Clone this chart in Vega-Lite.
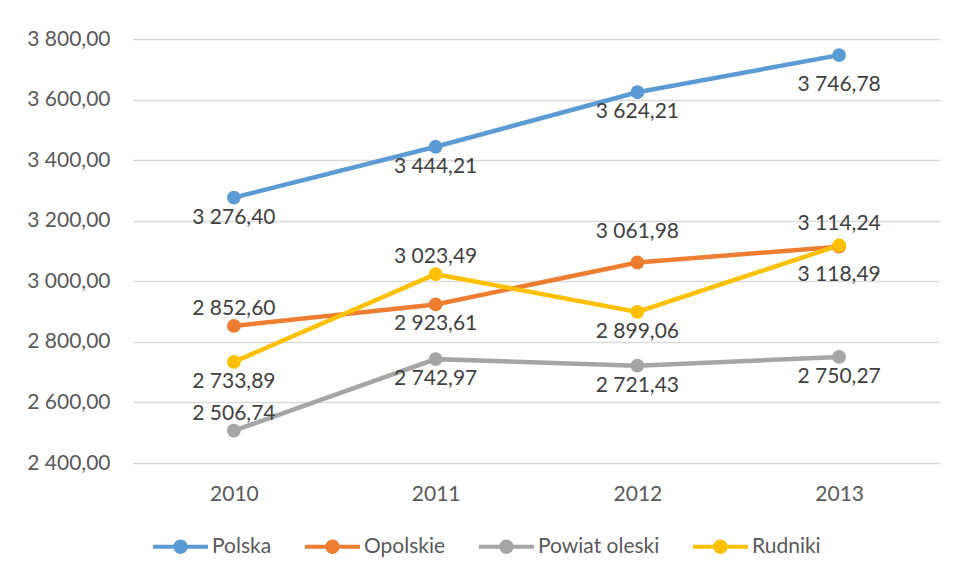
{
  "$schema": "https://vega.github.io/schema/vega-lite/v6.json",
  "autosize": "none",
  "width": 807,
  "height": 424,
  "padding": {"left": 133, "top": 39, "right": 17, "bottom": 113},
  "background": "white",
  "config": {
    "locale": {"number": {"decimal": ",", "thousands": " ", "grouping": [3], "currency": ["", " zł"]}},
    "view": {"stroke": null},
    "font": "Lato"
  },
  "data": {
    "values": [
      {"series": "Polska", "year": "2010", "value": 3276.40},
      {"series": "Polska", "year": "2011", "value": 3444.21},
      {"series": "Polska", "year": "2012", "value": 3624.21},
      {"series": "Polska", "year": "2013", "value": 3746.78},
      {"series": "Opolskie", "year": "2010", "value": 2852.60},
      {"series": "Opolskie", "year": "2011", "value": 2923.61},
      {"series": "Opolskie", "year": "2012", "value": 3061.98},
      {"series": "Opolskie", "year": "2013", "value": 3114.24},
      {"series": "Powiat oleski", "year": "2010", "value": 2506.74},
      {"series": "Powiat oleski", "year": "2011", "value": 2742.97},
      {"series": "Powiat oleski", "year": "2012", "value": 2721.43},
      {"series": "Powiat oleski", "year": "2013", "value": 2750.27},
      {"series": "Rudniki", "year": "2010", "value": 2733.89},
      {"series": "Rudniki", "year": "2011", "value": 3023.49},
      {"series": "Rudniki", "year": "2012", "value": 2899.06},
      {"series": "Rudniki", "year": "2013", "value": 3118.49}
    ]
  },
  "encoding": {
    "x": {
      "field": "year", "type": "ordinal",
      "scale": {"type": "point", "padding": 0.5},
      "axis": {
        "title": null, "labelAngle": 0, "ticks": false, "domain": true,
        "domainColor": "#d9d9d9", "domainWidth": 1,
        "labelFont": "Lato", "labelFontSize": 21, "labelColor": "#595959",
        "labelPadding": 20
      }
    },
    "y": {
      "field": "value", "type": "quantitative",
      "scale": {"domain": [2400, 3800], "nice": false, "zero": false},
      "axis": {
        "title": null, "values": [2400, 2600, 2800, 3000, 3200, 3400, 3600, 3800],
        "format": ",.2f", "ticks": false, "domain": false,
        "grid": true, "gridColor": "#d9d9d9", "gridWidth": 1.3,
        "labelFont": "Lato", "labelFontSize": 21, "labelColor": "#595959",
        "labelPadding": 23
      }
    },
    "color": {
      "field": "series", "type": "nominal",
      "sort": ["Polska", "Opolskie", "Powiat oleski", "Rudniki"],
      "scale": {
        "domain": ["Polska", "Opolskie", "Powiat oleski", "Rudniki"],
        "range": ["#5b9bd5", "#ed7d31", "#a5a5a5", "#ffc000"]
      },
      "legend": {
        "title": null, "orient": "none", "direction": "horizontal",
        "legendX": 20, "legendY": 480,
        "symbolType": "M-1,-0.075L1,-0.075L1,0.075L-1,0.075Z M0.26,0 A0.26,0.26 0 1,1 -0.26,0 A0.26,0.26 0 1,1 0.26,0Z",
        "symbolSize": 3025, "symbolStrokeWidth": 0, "symbolOpacity": 1,
        "labelFont": "Lato", "labelFontSize": 21, "labelColor": "#595959",
        "labelOffset": 4, "columnPadding": 33,
        "encode": {"symbols": {"update": {"fill": {"scale": "color", "field": "value"}, "stroke": {"value": "transparent"}}}}
      }
    }
  },
  "layer": [
    {"mark": {"type": "line", "strokeWidth": 4.5, "strokeCap": "round"}, "encoding": {"detail": {"field": "series"}}},
    {"mark": {"type": "point", "filled": true, "opacity": 1, "size": 190}},
    {
      "transform": [{"filter": "(datum.series=='Polska' && datum.year!='2013') || (datum.series=='Opolskie' && datum.year=='2011') || (datum.series=='Powiat oleski' && datum.year!='2010') || (datum.series=='Rudniki' && (datum.year=='2010' || datum.year=='2012'))"}],
      "mark": {"type": "text", "dy": 20, "fontSize": 21, "font": "Lato", "color": "#404040", "baseline": "middle", "align": "center"},
      "encoding": {"text": {"field": "value", "type": "quantitative", "format": ",.2f"}, "color": {"value": "#404040"}}
    },
    {
      "transform": [{"filter": "(datum.series=='Polska' || datum.series=='Rudniki') && datum.year=='2013'"}],
      "mark": {"type": "text", "dy": 30, "fontSize": 21, "font": "Lato", "color": "#404040", "baseline": "middle", "align": "center"},
      "encoding": {"text": {"field": "value", "type": "quantitative", "format": ",.2f"}, "color": {"value": "#404040"}}
    },
    {
      "transform": [{"filter": "(datum.series=='Opolskie' && datum.year=='2010') || (datum.series=='Powiat oleski' && datum.year=='2010') || (datum.series=='Rudniki' && datum.year=='2011')"}],
      "mark": {"type": "text", "dy": -17, "fontSize": 21, "font": "Lato", "color": "#404040", "baseline": "middle", "align": "center"},
      "encoding": {"text": {"field": "value", "type": "quantitative", "format": ",.2f"}, "color": {"value": "#404040"}}
    },
    {
      "transform": [{"filter": "datum.series=='Opolskie' && datum.year=='2013'"}],
      "mark": {"type": "text", "dy": -23, "fontSize": 21, "font": "Lato", "color": "#404040", "baseline": "middle", "align": "center"},
      "encoding": {"text": {"field": "value", "type": "quantitative", "format": ",.2f"}, "color": {"value": "#404040"}}
    },
    {
      "transform": [{"filter": "datum.series=='Opolskie' && datum.year=='2012'"}],
      "mark": {"type": "text", "dy": -31, "fontSize": 21, "font": "Lato", "color": "#404040", "baseline": "middle", "align": "center"},
      "encoding": {"text": {"field": "value", "type": "quantitative", "format": ",.2f"}, "color": {"value": "#404040"}}
    }
  ]
}
